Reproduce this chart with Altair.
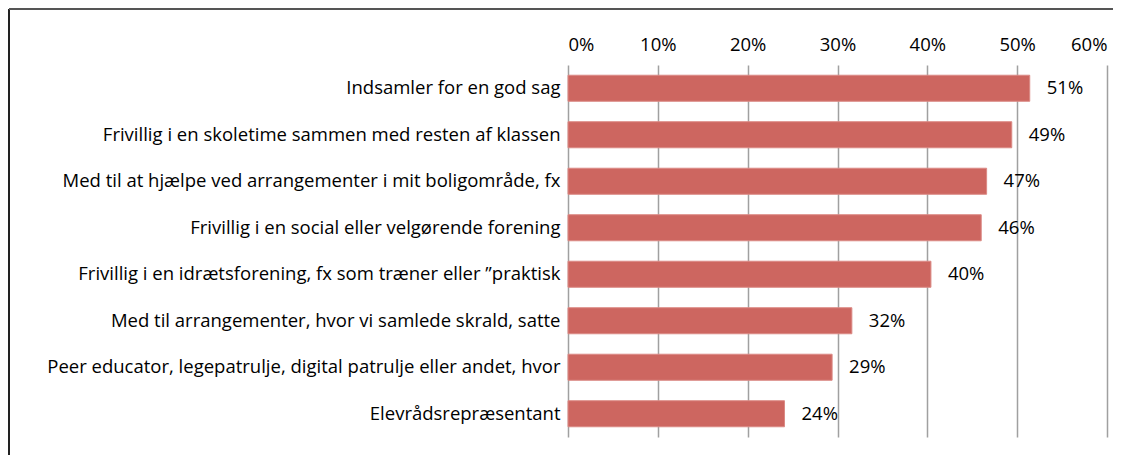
import altair as alt
import pandas as pd

categories = [
    "Indsamler for en god sag",
    "Frivillig i en skoletime sammen med resten af klassen",
    "Med til at hjælpe ved arrangementer i mit boligområde, fx",
    "Frivillig i en social eller velgørende forening",
    "Frivillig i en idrætsforening, fx som træner eller ”praktisk",
    "Med til arrangementer, hvor vi samlede skrald, satte",
    "Peer educator, legepatrulje, digital patrulje eller andet, hvor",
    "Elevrådsrepræsentant",
]
values = [0.514, 0.494, 0.466, 0.460, 0.404, 0.316, 0.294, 0.241]
tick_values = [0.0, 0.1, 0.2, 0.3, 0.4, 0.5, 0.6]

FONT = "Open Sans"
FS = 18.5

df = pd.DataFrame({"kategori": categories, "andel": values})

y_enc = alt.Y(
    "kategori:N",
    sort=categories,
    title=None,
    scale=alt.Scale(paddingInner=0.44, paddingOuter=0.22),
    axis=alt.Axis(
        ticks=False, domain=False, labelFontSize=FS, labelFont=FONT,
        labelColor="black", labelPadding=8, labelLimit=700,
        minExtent=560, maxExtent=560,
    ),
)
x_enc = alt.X(
    "andel:Q",
    title=None,
    scale=alt.Scale(domain=[0, 0.6], nice=False, zero=True),
    axis=alt.Axis(
        orient="top", values=tick_values, format=".0%", grid=True,
        gridColor="#A0A0A0", gridWidth=1.5, domain=False, ticks=False,
        labelFontSize=FS, labelFont=FONT, labelColor="black", labelPadding=11,
    ),
)

bars = alt.Chart(df).mark_bar(color="#CD6660", stroke="#DB8A85", strokeWidth=1).encode(
    x=x_enc, y=y_enc
)
labels = alt.Chart(df).mark_text(
    align="left", baseline="middle", dx=17, fontSize=FS, font=FONT, color="black"
).encode(
    x="andel:Q", y=alt.Y("kategori:N", sort=categories),
    text=alt.Text("andel:Q", format=".0%"),
)

one = pd.DataFrame({"a": [0]})
left_border = alt.Chart(one).mark_rule(color="#222222", strokeWidth=2).encode(
    x=alt.value(-559), y=alt.value(-56), y2=alt.value(390)
)
top_border = alt.Chart(one).mark_rule(color="#555555", strokeWidth=2).encode(
    x=alt.value(-559), x2=alt.value(545), y=alt.value(-56)
)

chart = (
    alt.layer(bars, labels, left_border, top_border)
    .properties(width=539, height=372, padding=0)
    .configure_view(stroke=None)
)

chart.save("out.html", embed_options={"renderer": "svg", "actions": False})
